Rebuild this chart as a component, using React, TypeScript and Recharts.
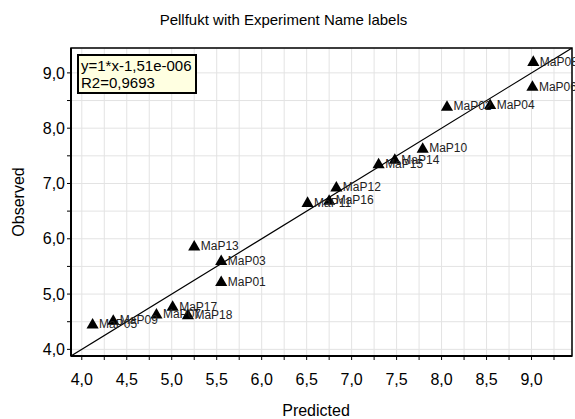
import React from 'react';
import {
  ScatterChart,
  Scatter,
  XAxis,
  YAxis,
  ZAxis,
  CartesianGrid,
  ReferenceLine,
  ReferenceArea,
  LabelList,
} from 'recharts';

// experiment names, predicted and observed values
const names = [
  'MaP05', 'MaP09', 'MaP07', 'MaP17', 'MaP18', 'MaP13', 'MaP03', 'MaP01', 'MaP11',
  'MaP16', 'MaP12', 'MaP15', 'MaP14', 'MaP10', 'MaP02', 'MaP04', 'MaP06', 'MaP08',
];
const predicted = [
  4.12, 4.35, 4.83, 5.01, 5.18, 5.25, 5.55, 5.55, 6.51,
  6.75, 6.83, 7.30, 7.48, 7.79, 8.06, 8.54, 9.01, 9.02,
];
const observed = [
  4.44, 4.51, 4.62, 4.76, 4.61, 5.85, 5.59, 5.21, 6.64,
  6.68, 6.92, 7.34, 7.42, 7.62, 8.38, 8.41, 8.74, 9.19,
];

const xTicks = [4, 4.25, 4.5, 4.75, 5, 5.25, 5.5, 5.75, 6, 6.25, 6.5, 6.75, 7, 7.25, 7.5, 7.75, 8, 8.25, 8.5, 8.75, 9, 9.25];
const yTicks = [4, 4.5, 5, 5.5, 6, 6.5, 7, 7.5, 8, 8.5, 9];

const slope = 1;
const intercept = -1.51e-6;
const domainMin = 3.88;
const domainMax = 9.45;

const points = names.map((name, i) => ({ name, x: predicted[i], y: observed[i] }));

const font = 'Liberation Sans, Arial, sans-serif';

const fmt = (v: number) => v.toFixed(1).replace('.', ',');

export default function App() {
  return (
    <div style={{ position: 'absolute', left: 0, top: 0, width: 575, height: 419, background: '#fff', fontFamily: font }}>
      <div
        style={{
          position: 'absolute',
          left: 0,
          width: 567,
          top: 11,
          textAlign: 'center',
          fontSize: 15,
          color: '#000',
        }}
      >
        Pellfukt with Experiment Name labels
      </div>
      <ScatterChart width={575} height={419} margin={{ top: 48, right: 3, left: 0, bottom: 0 }}>
        <CartesianGrid stroke="#e3e3e3" strokeWidth={1} />
        <XAxis
          type="number"
          dataKey="x"
          domain={[domainMin, domainMax]}
          ticks={xTicks}
          interval={0}
          height={63}
          tickSize={4}
          tickMargin={14}
          tickFormatter={(v: number) => (Math.round(v * 4) % 2 === 0 ? fmt(v) : '')}
          tick={{ fill: '#000', fontSize: 16, fontFamily: font }}
          tickLine={{ stroke: '#000' }}
          axisLine={{ stroke: '#000', strokeWidth: 2 }}
          allowDataOverflow
          label={{
            content: () => (
              <text x={316} y={416} textAnchor="middle" fontSize={16} fontFamily={font} fill="#000">
                Predicted
              </text>
            ),
          }}
        />
        <YAxis
          type="number"
          dataKey="y"
          domain={[domainMin, domainMax]}
          ticks={yTicks}
          interval={0}
          width={71}
          tickSize={4}
          tickMargin={2}
          tickFormatter={(v: number) => (Number.isInteger(v) ? fmt(v) : '')}
          tick={{ fill: '#000', fontSize: 16, fontFamily: font }}
          tickLine={{ stroke: '#000' }}
          axisLine={{ stroke: '#000', strokeWidth: 2 }}
          allowDataOverflow
          label={{
            content: () => (
              <text
                x={18}
                y={202}
                transform="rotate(-90 18 202)"
                textAnchor="middle"
                dominantBaseline="central"
                fontSize={16}
                fontFamily={font}
                fill="#000"
              >
                Observed
              </text>
            ),
          }}
        />
        <ZAxis range={[45, 45]} />
        <ReferenceArea
          x1={domainMin}
          x2={domainMax}
          y1={domainMin}
          y2={domainMax}
          fill="none"
          stroke="#000"
          strokeWidth={1.5}
        />
        <ReferenceLine
          segment={[
            { x: domainMin, y: slope * domainMin + intercept },
            { x: domainMax, y: slope * domainMax + intercept },
          ]}
          stroke="#000"
          strokeWidth={1.2}
          ifOverflow="hidden"
        />
        <Scatter data={points} shape="triangle" fill="#000" isAnimationActive={false}>
          <LabelList dataKey="name" position="right" offset={2} fontSize={12} fontFamily={font} fill="#222" dy={-1} />
        </Scatter>
      </ScatterChart>
      <div
        style={{
          position: 'absolute',
          left: 77,
          top: 54,
          width: 120,
          height: 40,
          boxSizing: 'border-box',
          border: '2px solid #000',
          background: '#ffffe1',
          fontSize: 15,
          lineHeight: '16.5px',
          padding: '2px 0 0 2px',
          color: '#000',
          whiteSpace: 'nowrap',
        }}
      >
        y=1*x-1,51e-006
        <br />
        R2=0,9693
      </div>
    </div>
  );
}
